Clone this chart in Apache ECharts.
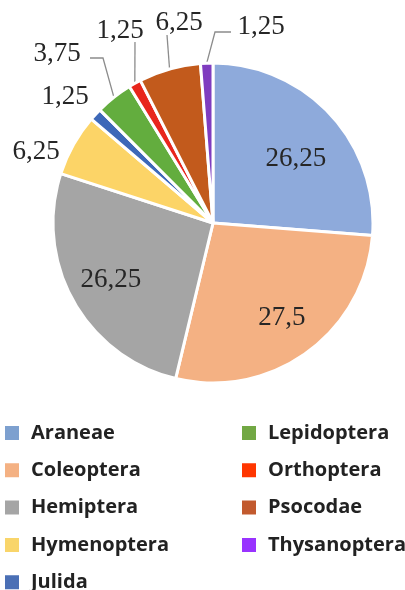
<!DOCTYPE html>
<html>
<head>
<meta charset="utf-8">
<script src="https://cdn.jsdelivr.net/npm/echarts@6/dist/echarts.min.js"></script>
<style>
  html, body { margin: 0; padding: 0; background: #fff; }
  #chart { width: 405px; height: 590px; }
</style>
</head>
<body>
<div id="chart"></div>
<script>
// orders and their share (%)
const names = ['Araneae', 'Coleoptera', 'Hemiptera', 'Hymenoptera', 'Julida',
  'Lepidoptera', 'Orthoptera', 'Psocodae', 'Thysanoptera'];
const values = [26.25, 27.5, 26.25, 6.25, 1.25, 3.75, 1.25, 6.25, 1.25];
const sliceColors = ['#8eaadb', '#f4b183', '#a5a5a5', '#fcd467', '#3d68b8',
  '#63ad3e', '#e8261c', '#c25a1c', '#7f3cbf'];
const legendColors = ['#7da0cf', '#f4b183', '#a5a5a5', '#f9d56a', '#4a6fb5',
  '#72a844', '#ff3600', '#c25a2e', '#9933ff'];
const legendLeft = names.slice(0, 5);
const legendRight = names.slice(5);

// where the small outside labels sit (text centre) and the elbow of their line
const outerSpots = {
  3: { at: [36, 152] },
  4: { at: [65, 97] },
  5: { at: [57, 54], line: [[103, 58], [90, 58]] },
  6: { at: [120, 31], line: [[135, 42]] },
  7: { at: [179, 23], line: [[167, 35]] },
  8: { at: [261, 27], line: [[215, 32], [231, 32]] }
};
// small shift of an inner label
const innerNudge = { 0: [-3, 15] };

const fmt = v => String(v).replace('.', ',');
const labelFont = { fontFamily: 'Liberation Serif', fontSize: 27, color: '#262626', overflow: 'none' };

const chart = echarts.init(document.getElementById('chart'));

const legendData = list => list.map(n => ({
  name: n,
  itemStyle: { color: legendColors[names.indexOf(n)] }
}));
const legendBase = {
  orient: 'vertical',
  top: 423,
  height: 170,
  padding: 0,
  itemWidth: 16,
  itemHeight: 16,
  itemGap: 17.3,
  icon: 'rect',
  selectedMode: false,
  textStyle: {
    fontFamily: 'Open Sans',
    fontWeight: 'bold',
    fontSize: 20,
    color: '#222',
    padding: [0, 0, 0, 6]
  }
};

chart.setOption({
  animation: false,
  legend: [
    Object.assign({}, legendBase, { left: 3, data: legendData(legendLeft) }),
    Object.assign({}, legendBase, { left: 240, data: legendData(legendRight) })
  ],
  series: [
    {
      name: 'share',
      type: 'pie',
      center: [213, 223],
      radius: 160,
      startAngle: 90,
      clockwise: true,
      itemStyle: { borderColor: '#fff', borderWidth: 3 },
      emphasis: { disabled: true },
      label: Object.assign({ show: true, position: 'outside', formatter: p => fmt(p.value) }, labelFont),
      labelLine: { show: true, lineStyle: { color: '#8c8c8c', width: 1.3 } },
      labelLayout: function (params) {
        const s = outerSpots[params.dataIndex];
        if (!s) return {};
        const edge = params.labelLinePoints ? params.labelLinePoints[0] : null;
        const out = { x: s.at[0], y: s.at[1], align: 'center', verticalAlign: 'middle', width: 80 };
        if (edge && s.line) {
          out.labelLinePoints = [edge].concat(s.line);
        }
        return out;
      },
      data: names.map((n, i) => ({
        name: n,
        value: values[i],
        itemStyle: { color: sliceColors[i] },
        label: { show: values[i] < 10 },
        labelLine: { show: values[i] < 10 && !!(outerSpots[i] && outerSpots[i].line) }
      }))
    },
    {
      // transparent copy, only to carry the inner labels further out
      name: 'inner',
      type: 'pie',
      center: [213, 223],
      radius: [68, 160],
      startAngle: 90,
      clockwise: true,
      silent: true,
      itemStyle: { color: 'rgba(0,0,0,0)' },
      emphasis: { disabled: true },
      label: Object.assign({ show: true, position: 'inside', formatter: p => fmt(p.value) }, labelFont),
      labelLine: { show: false },
      labelLayout: function (params) {
        const d = innerNudge[params.dataIndex];
        return d ? { dx: d[0], dy: d[1] } : {};
      },
      data: names.map((n, i) => ({
        name: n,
        value: values[i],
        label: { show: values[i] >= 10 }
      }))
    }
  ]
});
</script>
</body>
</html>
